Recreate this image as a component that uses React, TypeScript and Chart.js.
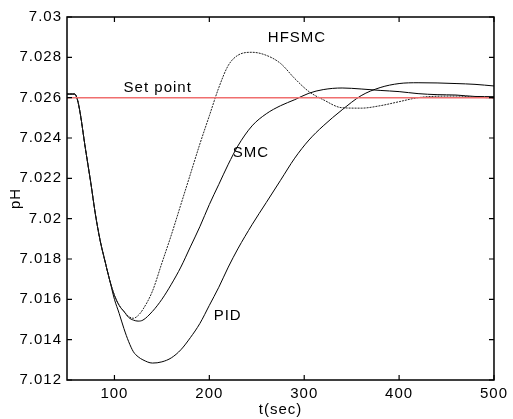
import React, { useEffect, useRef } from 'react';
import { Chart, registerables } from 'chart.js';

Chart.register(...registerables);

// ---- data ----
const timeSec = [50, 58, 61, 64, 69, 75, 80, 85, 90, 95, 100, 105, 110, 115, 120, 125, 130, 140, 150, 160, 170, 180, 190, 200, 210, 220, 230, 245, 260, 275, 290, 305, 320, 340, 360, 380, 400, 420, 440, 460, 480, 500];

const phHFSMC = [7.02618, 7.02618, 7.0259, 7.0252, 7.0236, 7.0218, 7.0202, 7.0189, 7.0179, 7.01695,
  7.0162, 7.0157, 7.0154, 7.01515, 7.01506, 7.0152, 7.0155, 7.0164, 7.0178, 7.0192, 7.0207, 7.0222, 7.0237, 7.0251, 7.0265, 7.0276, 7.0281, 7.02825, 7.0281, 7.0277, 7.02695, 7.0263, 7.0259, 7.0255, 7.02548, 7.0256, 7.0258, 7.026, 7.02607, 7.02608, 7.02603, 7.02598];

const phSMC = [7.02618, 7.02618, 7.0259, 7.0252, 7.0236, 7.0218, 7.0202, 7.0189, 7.0179, 7.01695,
  7.0162, 7.0157, 7.0154, 7.0151, 7.01497, 7.01492, 7.01497, 7.0154, 7.016, 7.01675, 7.0176, 7.0186, 7.0196, 7.0207, 7.0217, 7.0227, 7.0236, 7.0246, 7.0252, 7.0256, 7.0259, 7.02622, 7.0264, 7.02648, 7.02643, 7.02636, 7.0263, 7.0262, 7.02615, 7.02613, 7.02606, 7.02605];

const phPID = [7.02618, 7.02618, 7.0259, 7.0252, 7.0236, 7.0218, 7.0202, 7.0189, 7.0179, 7.01695,
  7.016, 7.0153, 7.01455, 7.0139, 7.0134, 7.01315, 7.013, 7.01284, 7.0129, 7.0131, 7.0135, 7.0141, 7.0148, 7.0157, 7.0166, 7.0176, 7.0185, 7.0197, 7.0208, 7.0219, 7.023, 7.0239, 7.0246, 7.0254, 7.0261, 7.0265, 7.0267, 7.02674, 7.02673, 7.0267, 7.02666, 7.02658];

const setPointValue = 7.026;
const setPointRange = [50, 500];

const xTickValues = [100, 200, 300, 400, 500];
const yTickValues = [7.012, 7.014, 7.016, 7.018, 7.02, 7.022, 7.024, 7.026, 7.028, 7.03];
const yTickLabels = ['7.012', '7.014', '7.016', '7.018', '7.02', '7.022', '7.024', '7.026', '7.028', '7.03'];

const noteTexts = ['HFSMC', 'Set point', 'SMC', 'PID'];
const noteX = [292.4, 145.6, 243.8, 219.3];
const noteY = [7.02896, 7.02648, 7.02325, 7.01517];

const FONT = "'Liberation Sans', Arial, sans-serif";

const spacingPlugin = {
  id: 'spacing',
  beforeLayout(chart: any) { chart.ctx.letterSpacing = '1px'; },
  beforeDraw(chart: any) { chart.ctx.letterSpacing = '1px'; },
};

const framePlugin = {
  id: 'frame',
  afterDatasetsDraw(chart: any) {
    const { ctx, chartArea: a, scales } = chart;
    const tl = 5;
    ctx.save();
    ctx.strokeStyle = '#000';
    ctx.lineWidth = 1.5;
    ctx.strokeRect(a.left, a.top, a.right - a.left, a.bottom - a.top);
    ctx.lineWidth = 1.2;
    ctx.beginPath();
    xTickValues.forEach((v) => {
      const px = scales.x.getPixelForValue(v);
      ctx.moveTo(px, a.bottom); ctx.lineTo(px, a.bottom - tl);
      ctx.moveTo(px, a.top); ctx.lineTo(px, a.top + tl);
    });
    yTickValues.forEach((v) => {
      const py = scales.y.getPixelForValue(v);
      ctx.moveTo(a.left, py); ctx.lineTo(a.left + tl, py);
      ctx.moveTo(a.right, py); ctx.lineTo(a.right - tl, py);
    });
    ctx.stroke();
    ctx.fillStyle = '#000';
    ctx.font = `15px ${FONT}`;
    ctx.textAlign = 'center';
    ctx.textBaseline = 'middle';
    noteTexts.forEach((t, i) => {
      ctx.fillText(t, scales.x.getPixelForValue(noteX[i]), scales.y.getPixelForValue(noteY[i]));
    });
    ctx.restore();
  },
};

const toPoints = (ys: number[]) => ys.map((y, i) => ({ x: timeSec[i], y }));

export default function App() {
  const ref = useRef<HTMLCanvasElement>(null);
  useEffect(() => {
    if (!ref.current) return;
    Chart.defaults.font.family = FONT;
    Chart.defaults.font.size = 15;
    Chart.defaults.color = '#000';
    const chart = new Chart(ref.current, {
      type: 'line',
      data: {
        datasets: [
          {
            label: 'Set point',
            data: setPointRange.map((x) => ({ x, y: setPointValue })),
            borderColor: 'rgb(240,110,110)',
            borderWidth: 1.5,
            pointRadius: 0,
          },
          {
            label: 'HFSMC',
            data: toPoints(phHFSMC),
            borderColor: '#222',
            borderWidth: 1,
            borderDash: [2, 1],
            pointRadius: 0,
            cubicInterpolationMode: 'monotone',
          },
          {
            label: 'SMC',
            data: toPoints(phSMC),
            borderColor: '#000',
            borderWidth: 1,
            pointRadius: 0,
            cubicInterpolationMode: 'monotone',
          },
          {
            label: 'PID',
            data: toPoints(phPID),
            borderColor: '#000',
            borderWidth: 1,
            pointRadius: 0,
            cubicInterpolationMode: 'monotone',
          },
        ],
      },
      options: {
        animation: false,
        responsive: false,
        layout: { padding: { left: 0, top: 17, right: 16, bottom: 0 } },
        plugins: { legend: { display: false }, tooltip: { enabled: false } },
        scales: {
          x: {
            type: 'linear',
            min: 50,
            max: 500,
            grid: { display: false, drawTicks: false },
            border: { display: false },
            afterBuildTicks: (s: any) => { s.ticks = xTickValues.map((v) => ({ value: v })); },
            afterFit: (s: any) => { s.height = 39; },
            ticks: { padding: 5, maxRotation: 0, autoSkip: false, callback: (v: any) => String(v) },
            title: { display: true, text: 't(sec)', padding: { top: 0, bottom: 0 } },
          },
          y: {
            type: 'linear',
            min: 7.012,
            max: 7.03,
            grid: { display: false, drawTicks: false },
            border: { display: false },
            afterBuildTicks: (s: any) => { s.ticks = yTickValues.map((v) => ({ value: v })); },
            afterFit: (s: any) => { s.width = 67; },
            ticks: {
              padding: 5,
              autoSkip: false,
              callback: (v: any) => {
                const i = yTickValues.findIndex((t) => Math.abs(t - v) < 1e-9);
                return i >= 0 ? yTickLabels[i] : '';
              },
            },
            title: { display: true, text: 'pH', padding: { top: 7, bottom: 0 } },
          },
        },
      },
      plugins: [spacingPlugin, framePlugin],
    } as any);
    return () => chart.destroy();
  }, []);
  return (
    <div style={{ position: 'fixed', left: 0, top: 0, width: 513, height: 419, background: '#fff' }}>
      <canvas ref={ref} width={513} height={419} style={{ display: 'block' }} />
    </div>
  );
}
